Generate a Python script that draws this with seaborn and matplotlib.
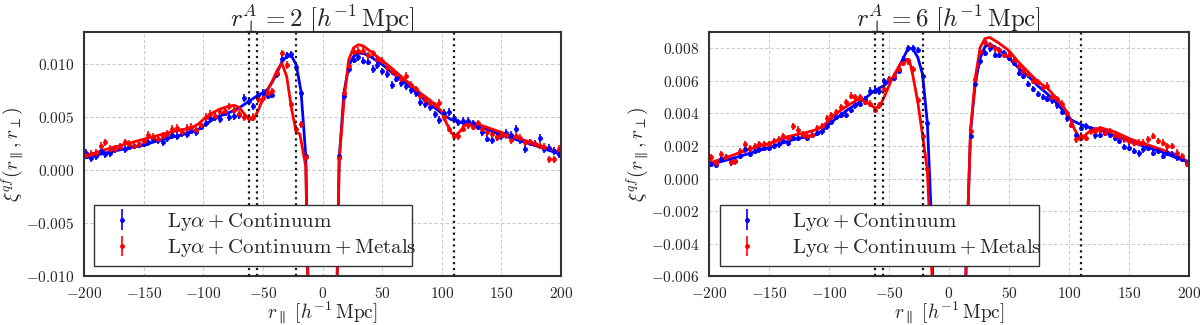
import numpy as np
import pandas as pd
import seaborn as sns
import matplotlib.pyplot as plt

# r_parallel bin centres [h^-1 Mpc]
bins_a = [-198, -194, -190, -186, -182, -178, -174, -170, -166, -162, -158, -154,
          -150, -146, -142, -138, -134, -130, -126, -122, -118, -114, -110, -106,
          -102, -98, -94, -90, -86, -82, -78, -74, -70, -66, -62, -58, -54, -50,
          -46, -42, -38, -34, -30, -26, -22, -18, -14,
          14, 18, 22, 26, 30, 34, 38, 42, 46, 50, 54, 58, 62, 66, 70, 74, 78, 82,
          86, 90, 94, 98, 102, 106, 110, 114, 118, 122, 126, 130, 134, 138, 142,
          146, 150, 154, 158, 162, 166, 170, 174, 178, 182, 186, 190, 194, 198]
bins_b = [b for b in bins_a if abs(b) > 14]

# ---- panel r_perp = 2 (values in 1e-3) ----
cont_2 = [1.6, 1.1, 1.3, 1.8, 1.5, 1.6, 2.0, 2.1, 2.0, 2.2, 2.3, 2.4, 2.5, 2.6, 2.9, 2.8,
          2.6, 3.0, 3.3, 3.2, 3.5, 3.4, 3.7, 3.6, 4.1, 4.4, 4.9, 5.0, 4.8, 5.4, 5.0, 5.1,
          5.15, 6.8, 6.5, 6.0, 7.1, 7.25, 7.0, 7.1, 9.0, 10.5, 10.8, 10.9, 9.7, 7.3, 1.35,
          1.3, 7.0, 9.5, 10.4, 10.6, 10.3, 10.2, 9.5, 9.9, 9.3, 9.0, 8.0, 8.6, 8.2, 7.9,
          7.55, 7.25, 6.4, 6.2, 5.9, 5.25, 4.7, 5.4, 5.45, 4.9, 4.5, 4.6, 4.6, 4.4, 4.1,
          3.55, 2.95, 2.8, 3.1, 3.2, 3.5, 3.3, 3.9, 2.8, 2.0, 2.6, 2.5, 3.0, 2.0, 2.1,
          1.8, 1.5]
metal_2 = [1.4, 1.5, 1.6, 2.3, 2.6, 2.0, 2.0, 2.2, 2.6, 2.5, 2.3, 2.5, 2.7, 3.3, 3.1, 2.9,
           3.2, 3.4, 3.9, 4.0, 3.6, 4.0, 4.1, 3.8, 4.2, 5.0, 5.3, 5.1, 5.5, 5.6, 6.0, 5.7,
           5.3, 5.0, 4.9, 5.0, 6.7, 6.8, 7.3, 7.4, 9.1, 11.0, 9.9, 6.2, 3.9, 4.3, 1.2,
           1.1, 7.3, 9.8, 11.1, 11.2, 11.2, 10.8, 11.0, 10.5, 10.3, 9.7, 9.3, 9.0, 8.6,
           8.9, 8.0, 7.6, 7.0, 6.6, 6.3, 6.1, 6.3, 5.0, 3.9, 3.2, 3.2, 3.9, 4.2, 4.1, 4.4,
           3.9, 3.6, 3.4, 3.1, 3.3, 3.3, 2.8, 3.2, 3.0, 2.6, 2.6, 2.5, 2.3, 2.2, 1.0, 1.0,
           2.0]
err_2 = 0.35

mx_cont_2 = [-198, -190, -180, -170, -160, -150, -140, -130, -120, -110, -104, -98, -92,
             -86, -80, -74, -68, -62, -56, -50, -46, -42, -38, -34, -30, -26, -22, -18,
             -14, -10, 10, 14, 18, 22, 26, 30, 34, 40, 50, 58, 66, 74, 82, 90, 96, 102,
             108, 114, 120, 130, 140, 150, 160, 170, 180, 190, 198]
my_cont_2 = [1.15, 1.4, 1.65, 1.9, 2.15, 2.35, 2.7, 3.0, 3.25, 3.6, 3.85, 4.3, 4.75,
             5.1, 5.35, 5.6, 6.0, 6.45, 6.9, 7.3, 7.6, 8.3, 9.2, 10.2, 10.7, 10.75, 9.9,
             7.4, 1.3, -25, -25, 1.0, 7.3, 9.8, 10.7, 11.0, 11.0, 10.7, 9.95, 9.2, 8.5,
             7.8, 6.95, 6.2, 5.7, 5.15, 4.75, 4.55, 4.4, 4.1, 3.75, 3.3, 2.95, 2.6, 2.25,
             1.85, 1.55]
mx_metal_2 = [-198, -190, -180, -170, -160, -150, -140, -130, -120, -110, -104, -98, -92,
              -86, -80, -74, -70, -66, -62, -58, -54, -50, -46, -42, -38, -34, -30, -26,
              -22, -19, -14, -10, 10, 14, 18, 22, 26, 30, 34, 40, 50, 58, 66, 74, 82, 90,
              96, 100, 104, 108, 111, 115, 120, 126, 136, 150, 164, 178, 190, 198]
my_metal_2 = [1.35, 1.65, 2.0, 2.3, 2.6, 2.9, 3.2, 3.5, 3.75, 3.95, 4.35, 4.95, 5.4,
              5.75, 5.95, 6.1, 5.9, 5.35, 4.85, 4.75, 5.6, 6.7, 7.5, 8.4, 9.4, 10.05, 8.8,
              5.8, 3.55, 3.4, 0.3, -25, -25, 1.0, 6.5, 10.4, 11.5, 11.8, 11.7, 11.2, 10.3,
              9.6, 8.8, 8.05, 7.25, 6.6, 6.0, 5.5, 4.4, 3.5, 3.2, 3.6, 4.3, 4.45, 4.1,
              3.55, 3.0, 2.47, 2.0, 1.7]

# ---- panel r_perp = 6 (values in 1e-3) ----
cont_6 = [0.9, 0.85, 1.2, 1.3, 1.0, 1.1, 1.4, 1.8, 1.5, 1.7, 1.8, 1.9, 1.9, 2.0, 2.1, 2.3,
          2.2, 2.5, 2.5, 2.6, 2.5, 2.7, 2.8, 2.9, 3.2, 3.5, 3.8, 3.9, 3.9, 4.2, 4.5, 4.6,
          4.9, 5.4, 5.4, 5.35, 6.0, 6.1, 6.2, 6.6, 7.3, 8.0, 8.0, 7.9, 6.3, 3.4,
          2.6, 5.8, 7.2, 7.7, 8.0, 7.6, 7.6, 7.7, 7.4, 7.1, 6.5, 6.3, 5.8, 5.5, 5.2, 5.0,
          4.9, 4.8, 4.5, 4.1, 3.7, 3.3, 2.7, 3.1, 3.2, 3.0, 2.65, 2.7, 2.8, 2.7, 2.5, 2.3,
          1.95, 1.9, 1.7, 1.55, 1.8, 1.9, 1.6, 1.7, 1.4, 1.6, 1.5, 1.3, 1.2, 0.95]
metal_6 = [1.3, 0.95, 1.5, 1.3, 1.0, 1.05, 1.7, 2.1, 1.85, 2.0, 2.1, 2.1, 2.1, 2.3, 2.4,
           2.6, 2.5, 3.2, 3.0, 2.7, 2.6, 2.7, 3.1, 3.2, 3.7, 3.9, 4.1, 4.4, 4.7, 5.1, 5.0,
           5.0, 4.7, 4.6, 4.2, 4.5, 5.5, 6.1, 6.3, 6.7, 7.1, 7.2, 6.7, 4.8, 2.6, 0.6,
           2.9, 6.1, 7.8, 8.4, 8.2, 8.0, 7.9, 7.6, 7.6, 7.3, 6.9, 6.6, 6.4, 6.0, 5.9, 5.6,
           5.7, 5.0, 4.9, 4.6, 4.0, 3.3, 2.4, 2.6, 2.5, 2.9, 2.9, 3.0, 2.8, 2.9, 2.7, 2.6,
           2.4, 2.3, 2.2, 2.2, 2.2, 2.4, 2.6, 2.3, 2.2, 2.0, 2.0, 1.6, 1.4, 0.9]
err_6 = 0.2

mx_cont_6 = [-198, -186, -176, -164, -150, -140, -130, -120, -112, -106, -100, -92, -84,
             -76, -70, -62, -54, -46, -40, -34, -30, -26, -22, -18, -14, -10, 10, 14, 18,
             22, 26, 30, 34, 42, 50, 58, 66, 74, 82, 90, 96, 102, 108, 116, 126, 136, 150,
             164, 178, 190, 198]
my_cont_6 = [0.88, 1.12, 1.33, 1.6, 1.9, 2.15, 2.38, 2.56, 2.67, 2.9, 3.35, 3.8, 4.25,
             4.62, 4.92, 5.4, 5.72, 6.22, 7.1, 8.0, 7.95, 7.45, 6.4, 3.4, -3.5, -30, -30,
             -6.0, 2.9, 5.9, 7.4, 8.1, 8.25, 7.9, 7.4, 6.8, 6.3, 5.7, 5.2, 4.6, 4.1, 3.6,
             3.38, 3.15, 2.98, 2.7, 2.3, 1.95, 1.62, 1.25, 1.05]
mx_metal_6 = [-198, -186, -176, -164, -150, -140, -130, -120, -112, -106, -100, -92, -84,
              -76, -70, -66, -62, -58, -54, -48, -41, -37, -33, -30, -26, -22, -18, -14,
              -10, 10, 14, 18, 22, 26, 30, 34, 42, 50, 58, 66, 74, 82, 90, 96, 101, 105,
              110, 115, 120, 127, 138, 152, 166, 180, 192, 198]
my_metal_6 = [1.0, 1.27, 1.55, 1.85, 2.15, 2.43, 2.65, 2.81, 2.97, 3.18, 3.55, 4.1, 4.5,
              4.85, 4.8, 4.55, 4.35, 4.4, 5.0, 6.05, 6.98, 7.33, 7.29, 6.3, 4.7, 2.65, 0.5,
              -6.2, -30, -30, -6.2, 3.0, 6.2, 8.05, 8.6, 8.67, 8.3, 7.85, 7.15, 6.55, 5.95,
              5.55, 4.9, 4.35, 3.68, 2.97, 2.36, 2.77, 3.03, 3.11, 2.87, 2.4, 2.06, 1.71,
              1.3, 1.1]

metal_lines = [-62, -55, -22, 110]

BLUE = '#0000ff'
RED = '#ff0000'

sns.set_theme(style="whitegrid")
plt.rcParams.update({
    'font.family': 'serif',
    'font.serif': ['cmr10', 'DejaVu Serif'],
    'mathtext.fontset': 'cm',
    'axes.formatter.use_mathtext': True,
    'axes.edgecolor': '0.2',
    'axes.linewidth': 1.5,
    'grid.color': '0.8',
    'grid.linestyle': (0, (3, 2)),
    'grid.linewidth': 0.8,
    'xtick.labelsize': 11,
    'ytick.labelsize': 11,
})

fig = plt.figure(figsize=(12, 3.25), dpi=100)
ax_l = fig.add_axes([0.0700, 0.150, 0.3975, 0.7515])
ax_r = fig.add_axes([0.5908, 0.150, 0.4, 0.7515])

panels = [
    (ax_l, bins_a, cont_2, metal_2, err_2, mx_cont_2, my_cont_2, mx_metal_2, my_metal_2,
     2, (-0.010, 0.013), [-0.010, -0.005, 0.0, 0.005, 0.010]),
    (ax_r, bins_b, cont_6, metal_6, err_6, mx_cont_6, my_cont_6, mx_metal_6, my_metal_6,
     6, (-0.006, 0.009), [-0.006, -0.004, -0.002, 0.0, 0.002, 0.004, 0.006, 0.008]),
]

for (ax, bins, cont, metal, err, mxc, myc, mxm, mym, rperp, ylim, yticks) in panels:
    ax.errorbar(np.array(bins), np.array(cont) * 1e-3, yerr=err * 1e-3, fmt='o', color=BLUE,
                ms=2.5, elinewidth=1.2, capsize=0,
                label=r'$\mathrm{Ly}\alpha + \mathrm{Continuum}$')
    ax.errorbar(np.array(bins), np.array(metal) * 1e-3, yerr=err * 1e-3, fmt='o', color=RED,
                ms=2.5, elinewidth=1.2, capsize=0,
                label=r'$\mathrm{Ly}\alpha + \mathrm{Continuum} + \mathrm{Metals}$')
    sns.lineplot(x=mxc, y=np.array(myc) * 1e-3, color=BLUE, lw=2, sort=False,
                 estimator=None, ax=ax, legend=False)
    sns.lineplot(x=mxm, y=np.array(mym) * 1e-3, color=RED, lw=2, sort=False,
                 estimator=None, ax=ax, legend=False)
    for xl in metal_lines:
        ax.axvline(xl, color='k', ls=':', lw=1.6, zorder=3)
    ax.set_xlim(-200, 200)
    ax.set_ylim(*ylim)
    ax.set_yticks(yticks)
    ax.set_xticks([-200, -150, -100, -50, 0, 50, 100, 150, 200])
    ax.yaxis.set_major_formatter(plt.FuncFormatter(lambda v, p: r'$%.3f$' % v))
    ax.xaxis.set_major_formatter(plt.FuncFormatter(lambda v, p: r'$%d$' % v))
    ax.set_title(r'$r_{\perp}^{A} = %d\ [h^{-1}\,\mathrm{Mpc}]$' % rperp, fontsize=18, pad=4)
    ax.set_xlabel(r'$r_{\parallel}\ [h^{-1}\,\mathrm{Mpc}]$', fontsize=14, labelpad=-1)
    ax.set_ylabel(r'$\xi^{qf}(r_{\parallel},r_{\perp})$', fontsize=14, labelpad=0)
    ax.tick_params(axis='both', pad=1)
    leg = ax.legend(loc='lower left', bbox_to_anchor=(0.022, 0.044, 0.665, 0.27),
                    mode='expand', fontsize=15, frameon=True, fancybox=False,
                    framealpha=1, edgecolor='0.2', numpoints=1, handlelength=2,
                    handletextpad=1.2, borderaxespad=0, borderpad=0.3, labelspacing=0.2)
    leg.get_frame().set_linewidth(1.0)

fig.savefig('out.png', dpi=100)
